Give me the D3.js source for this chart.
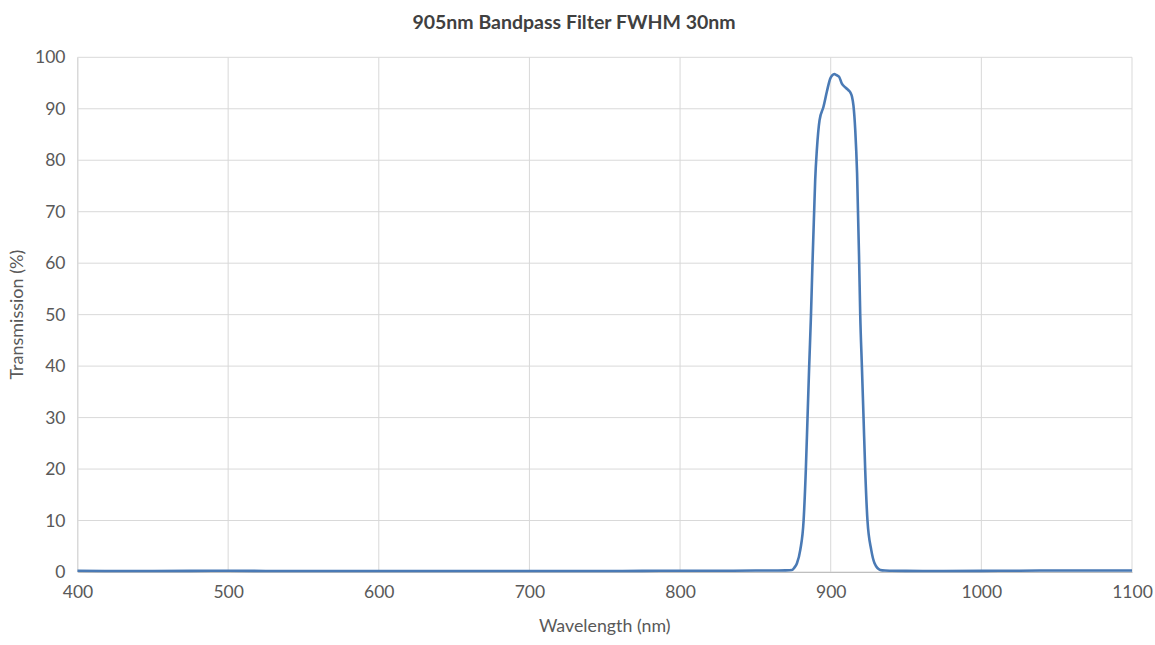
<!DOCTYPE html>
<html><head><meta charset="utf-8">
<script src="https://cdn.jsdelivr.net/npm/d3@7"></script>
<style>body{margin:0;background:#fff;} text{font-family:Lato,"Liberation Sans",sans-serif;}</style>
</head><body><svg id="c" width="1155" height="645"></svg>
<script>
const title = "905nm Bandpass Filter FWHM 30nm";
const xLabel = "Wavelength (nm)";
const yLabel = "Transmission (%)";
const xTicks = [400,500,600,700,800,900,1000,1100];
const yTicks = [0,10,20,30,40,50,60,70,80,90,100];
const wavelength = [400,425,450,475,500,525,550,575,600,625,650,675,700,725,750,775,800,825,850,860,865,870,874.3,876,877.6,879.8,882,883.5,884.6,885.7,886.9,887.9,889,889.7,890.8,892.6,895.2,897.5,899.7,901,902.5,903.5,904.2,905.6,907.4,909.5,911.8,913,914.1,915.1,916.3,917.5,918.9,919.6,920.7,921.8,922.9,924.4,926.9,929.1,932.9,936,940,950,975,1000,1025,1050,1075,1100];
const transmission = [0.25,0.2,0.2,0.22,0.25,0.2,0.18,0.2,0.2,0.18,0.2,0.2,0.18,0.2,0.2,0.22,0.25,0.25,0.28,0.3,0.3,0.32,0.4,0.9,1.7,4.3,10,20,29.9,39.9,49.9,60,70,76.2,82,87.8,90.4,93.4,95.9,96.5,96.75,96.6,96.5,96.2,94.9,94.2,93.6,93.2,92.4,90.6,85.8,77.5,60,49.9,39.9,29.9,19.8,10,4.3,1.7,0.4,0.28,0.25,0.22,0.2,0.22,0.25,0.3,0.3,0.3];

const svg = d3.select("#c");
const L=77.5, R=1132, T=57.3, B=572;
const x = d3.scaleLinear().domain([400,1100]).range([L,R]);
const y = d3.scaleLinear().domain([0,100]).range([B,T]);

const grid = svg.append("g");
grid.selectAll("line.h").data(yTicks).join("line")
  .attr("x1",L).attr("x2",R).attr("y1",d=>y(d)).attr("y2",d=>y(d))
  .attr("stroke","#d9d9d9").attr("stroke-width",1);
grid.selectAll("line.v").data(xTicks).join("line")
  .attr("y1",T).attr("y2",B).attr("x1",d=>x(d)).attr("x2",d=>x(d))
  .attr("stroke","#d9d9d9").attr("stroke-width",1);

const xAxis = svg.append("g").attr("transform",`translate(0,${B})`)
  .call(d3.axisBottom(x).tickValues(xTicks).tickSize(0).tickPadding(14).tickFormat(d3.format("d")));
xAxis.select(".domain").attr("stroke","#bfbfbf");
xAxis.selectAll("text").attr("fill","#595959").style("font-size","17.5px");

const yAxis = svg.append("g").attr("transform",`translate(${L},0)`)
  .call(d3.axisLeft(y).tickValues(yTicks).tickSize(0).tickPadding(12).tickFormat(d3.format("d")));
yAxis.select(".domain").attr("stroke","#d9d9d9");
yAxis.selectAll("text").attr("fill","#595959").style("font-size","17.5px");

const line = d3.line().x((d,i)=>x(wavelength[i])).y(d=>y(d)).curve(d3.curveMonotoneX);
svg.append("path").datum(transmission).attr("d",line)
  .attr("fill","none").attr("stroke","#4a7ab5").attr("stroke-width",2.6).attr("stroke-linejoin","round");

svg.append("text").attr("x",574).attr("y",29).attr("text-anchor","middle")
  .attr("fill","#404040").style("font-size","19.5px").style("font-weight","bold").text(title);
svg.append("text").attr("x",(L+R)/2).attr("y",632).attr("text-anchor","middle")
  .attr("fill","#595959").style("font-size","17.8px").text(xLabel);
svg.append("text").attr("transform",`translate(23,${(T+B)/2}) rotate(-90)`).attr("text-anchor","middle")
  .attr("fill","#595959").style("font-size","18px").text(yLabel);
</script></body></html>
